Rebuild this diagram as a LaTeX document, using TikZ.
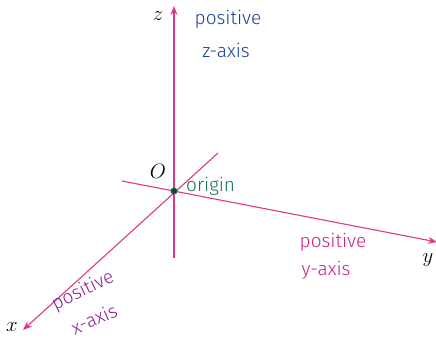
\documentclass[tikz,border=0pt]{standalone}
\usepackage{fontspec}
\newfontfamily\hand{Fira Sans Light}
\usetikzlibrary{arrows.meta}
\definecolor{axiscol}{RGB}{222,55,135}
\definecolor{zblue}{RGB}{25,65,145}
\definecolor{ogreen}{RGB}{20,115,75}
\definecolor{xpurple}{RGB}{140,30,145}
\definecolor{ymag}{RGB}{205,30,135}
\begin{document}
\begin{tikzpicture}[x=1pt,y=-1pt,
  axis/.style={draw=axiscol,line width=1.1pt,-{Stealth[length=9pt,width=7pt]}},
  axlab/.style={font=\fontsize{21}{21}\selectfont\itshape,inner sep=0pt},
  note/.style={font=\hand\fontsize{19}{19}\selectfont,inner sep=0pt}]
\useasboundingbox (0,0) rectangle (436,341);
\coordinate (O) at (174,191);
\coordinate (zb) at (174,258);
\coordinate (zt) at (174,6);
\coordinate (yb) at (122,181);
\coordinate (yt) at (437,242);
\coordinate (xb) at (218,153);
\coordinate (xt) at (23,330);
\draw[axis] (zb) -- (zt);
\draw[axis] (yb) -- (yt);
\draw[axis] (xb) -- (xt);
\node[axlab] (zl) at (158,16) {$z$};
\node[axlab] (ol) at (158,171) {$O$};
\node[axlab] (xl) at (12,327) {$x$};
\node[axlab] (yl) at (428,260) {$y$};
\node[circle,draw=ogreen,fill=ogreen!60!black,line width=1pt,minimum size=6pt,inner sep=0pt] (od) at (O) {};
\node[note,text=zblue] (zn1) at (228,19) {positive};
\node[note,text=zblue] (zn2) at (226,50) {z-axis};
\node[note,text=ogreen,anchor=west] (on) at (186,186) {origin};
\node[note,text=ymag] (yn1) at (333,242) {positive};
\node[note,text=ymag] (yn2) at (326,270) {y-axis};
\node[note,text=xpurple,rotate=26] (xn1) at (83,291) {positive};
\node[note,text=xpurple,rotate=24] (xn2) at (94,319) {x-axis};
\end{tikzpicture}
\end{document}
